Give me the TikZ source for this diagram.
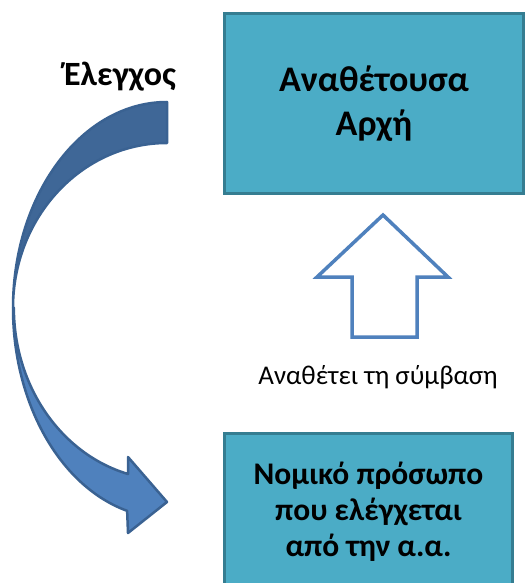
\documentclass[tikz,border=0pt]{standalone}
\usepackage{fontspec}
\setmainfont{Carlito}
\definecolor{boxfill}{HTML}{4BACC6}
\definecolor{boxline}{HTML}{357D91}
\definecolor{arrowblue}{HTML}{4F81BD}
\definecolor{arrowdark}{HTML}{3F6797}
\definecolor{arrowline}{HTML}{3A6292}
\begin{document}
\begin{tikzpicture}[
    x=1pt, y=-1pt,
    party/.style={draw=boxline, line width=3pt, fill=boxfill, align=center, inner sep=0pt},
    caption/.style={align=center, inner sep=0pt},
    band/.style={draw=arrowline, line width=2.5pt, line join=round},
    hollow/.style={draw=arrowblue, line width=3.5pt, fill=white, line join=miter}
    ]
    \useasboundingbox (0,0) rectangle (525,583);
    \node[party, minimum width=299, minimum height=180, font=\bfseries\fontsize{36}{44}\selectfont] (aa) at (374,103.5) {Αναθέτουσα\\Αρχή};
    \node[party, minimum width=288, minimum height=157, font=\bfseries\fontsize{31.5}{36}\selectfont] (np) at (368.5,512) {Νομικό πρόσωπο\\που ελέγχεται\\από την α.α.};
    \node[caption, font=\bfseries\fontsize{34}{40}\selectfont] (ctrl) at (120,77) {Έλεγχος};
    \node[caption, font=\fontsize{27}{32}\selectfont] (assign) at (378,377) {Αναθέτει τη σύμβαση};
    % block arrow up to the contracting authority
    \draw[hollow] (383,215) -- (448,277) -- (417,277) -- (417,337) -- (352,337) -- (352,277) -- (317,277) -- cycle;
    % curved arrow, back half then front half
    \draw[band, fill=arrowdark] (167,102) arc[start angle=-90, end angle=-180, x radius=154, y radius=206]
        arc[start angle=180, end angle=270, x radius=154, y radius=165] -- cycle;
    \draw[band, fill=arrowblue] (13,308) arc[start angle=180, end angle=105, x radius=154, y radius=210]
        -- (128,533) -- (167,502) -- (128,457) -- (128,474)
        arc[start angle=105, end angle=180, x radius=154, y radius=172] -- cycle;
\end{tikzpicture}
\end{document}
